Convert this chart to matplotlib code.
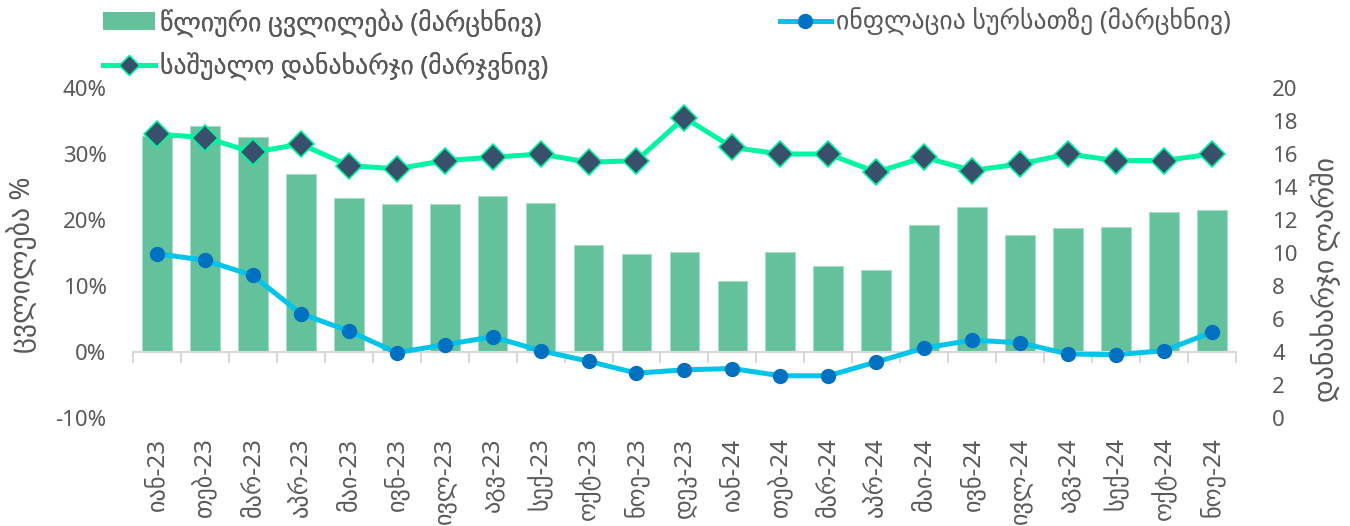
import numpy as np
import matplotlib.pyplot as plt
from matplotlib.ticker import PercentFormatter, MultipleLocator
from matplotlib.lines import Line2D
from matplotlib.patches import Patch

plt.rcParams['font.family'] = ['Noto Sans', 'DejaVu Sans']
plt.rcParams['axes.unicode_minus'] = False

# თვეები
months = ['იან-23', 'თებ-23', 'მარ-23', 'აპრ-23', 'მაი-23', 'ივნ-23', 'ივლ-23',
          'აგვ-23', 'სექ-23', 'ოქტ-23', 'ნოე-23', 'დეკ-23',
          'იან-24', 'თებ-24', 'მარ-24', 'აპრ-24', 'მაი-24', 'ივნ-24', 'ივლ-24',
          'აგვ-24', 'სექ-24', 'ოქტ-24', 'ნოე-24']
# წლიური ცვლილება, %
annual_change = [32.7, 34.3, 32.6, 26.9, 23.3, 22.5, 22.5, 23.7, 22.6, 16.2, 14.9, 15.2,
                 10.8, 15.2, 13.0, 12.5, 19.2, 21.9, 17.7, 18.8, 18.9, 21.2, 21.5]
# ინფლაცია სურსათზე, %
food_inflation = [14.9, 13.9, 11.6, 5.8, 3.2, -0.1, 1.1, 2.3, 0.2, -1.4, -3.2, -2.7,
                  -2.5, -3.6, -3.6, -1.5, 0.6, 1.8, 1.4, -0.3, -0.4, 0.2, 3.0]
# საშუალო დანახარჯი, ლარი
avg_spending = [17.2, 17.0, 16.1, 16.6, 15.3, 15.1, 15.6, 15.8, 16.0, 15.5, 15.6, 18.2,
                16.4, 16.0, 16.0, 14.9, 15.8, 15.0, 15.4, 16.0, 15.6, 15.6, 16.0]

bar_color = '#63C19C'
blue_line = '#00C5E8'
blue_dot = '#0070C0'
mint = '#00F5A0'
slate = '#39506D'
grey = '#595959'

fig = plt.figure(figsize=(13.5, 5.26), dpi=100)
ax = fig.add_axes([0.0985, 0.2053, 0.817, 0.6274])
x = np.arange(len(months))

ax.bar(x, annual_change, width=0.62, color=bar_color, edgecolor='#A8DCC6', linewidth=0.8, zorder=2)
ax.plot(x, food_inflation, color=blue_line, lw=3.6, marker='o', ms=10,
        mfc=blue_dot, mec=blue_dot, zorder=3)

ax.set_xlim(-0.5, len(months) - 0.5)
ax.set_ylim(-10, 40)
ax.yaxis.set_major_locator(MultipleLocator(10))
ax.yaxis.set_major_formatter(PercentFormatter(decimals=0))
ax.tick_params(axis='y', length=0, pad=19, labelsize=16, labelcolor=grey)
for s in ['top', 'right', 'left']:
    ax.spines[s].set_visible(False)
ax.spines['bottom'].set_position(('data', 0))
ax.spines['bottom'].set_color('#D9D9D9')
ax.spines['bottom'].set_linewidth(1.5)
ax.set_xticks(x)
ax.set_xticks(np.arange(-0.5, len(months)), minor=True)
ax.tick_params(axis='x', which='major', length=0, labelbottom=False)
ax.tick_params(axis='x', which='minor', length=8, width=1.5, color='#D9D9D9', direction='out')

# month labels under the plot area
sec = ax.secondary_xaxis(0)
sec.set_xticks(x, labels=months)
sec.tick_params(length=0, pad=14, labelsize=17.5, labelcolor=grey, rotation=90)
sec.spines['bottom'].set_visible(False)

ax2 = ax.twinx()
ax2.plot(x, avg_spending, color=mint, lw=3.6, marker='D', ms=13,
         mfc=slate, mec=mint, mew=1.2, zorder=4)
ax2.set_ylim(0, 20)
ax2.yaxis.set_major_locator(MultipleLocator(2))
ax2.tick_params(axis='y', length=0, pad=26, labelsize=16, labelcolor=grey)
for s in ax2.spines.values():
    s.set_visible(False)

fig.text(0.016, 0.496, 'ცვლილება %', rotation=90, ha='center', va='center', fontsize=20, color=grey)
fig.text(0.982, 0.468, 'დანახარჯი ლარში', rotation=90, ha='center', va='center', fontsize=20, color=grey)

h_bar = Patch(facecolor=bar_color)
h_blue = Line2D([], [], color=blue_line, lw=3.6, marker='o', ms=10, mfc=blue_dot, mec=blue_dot)
h_mint = Line2D([], [], color=mint, lw=3.6, marker='D', ms=10, mfc=slate, mec=mint)

leg1 = fig.legend([h_bar, h_mint], ['წლიური ცვლილება (მარცხნივ)', 'საშუალო დანახარჯი (მარჯვნივ)'],
                  loc='upper left', bbox_to_anchor=(0.065, 1.014), frameon=False, fontsize=18.5,
                  handlelength=2.0, handletextpad=0.2, labelspacing=0.62, borderpad=0.1,
                  labelcolor=grey)
leg2 = fig.legend([h_blue], ['ინფლაცია სურსათზე (მარცხნივ)'],
                  loc='upper left', bbox_to_anchor=(0.566, 1.014), frameon=False, fontsize=18.5,
                  handlelength=2.0, handletextpad=0.2, borderpad=0.1, labelcolor=grey)
fig.add_artist(leg1)

fig.savefig('out.png', dpi=100)
